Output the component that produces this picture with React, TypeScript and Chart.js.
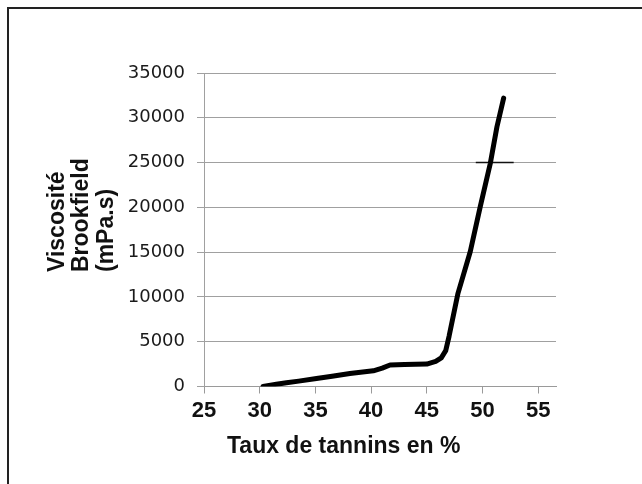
import React, { useEffect, useRef } from "react";
import { Chart, registerables } from "chart.js";

Chart.register(...registerables);

const tannins = [30.3, 31.5, 32.4, 33.5, 35.1, 36.5, 38.1, 40.2, 41.0, 41.7, 43.0, 45.0, 45.8, 46.3, 46.7, 47.0, 47.8, 48.9, 49.8, 50.7, 51.3, 51.9];
const viscosity = [0, 250, 420, 600, 900, 1150, 1450, 1750, 2050, 2400, 2450, 2500, 2800, 3200, 4000, 5600, 10400, 15050, 20080, 24900, 29000, 32200];
const markerX = [49.4, 52.8];
const markerY = [25000, 25000];
const xTicks = [25, 30, 35, 40, 45, 50, 55];
const yTitleLines = ["Viscosité", "Brookfield", "(mPa.s)"];
const xTitle = "Taux de tannins en %";

export default function App() {
  const ref = useRef<HTMLCanvasElement>(null);

  useEffect(() => {
    if (!ref.current) return;
    const titles = {
      id: "titles",
      afterDraw(chart: any) {
        const ctx = chart.ctx as CanvasRenderingContext2D;
        ctx.save();
        ctx.fillStyle = "#111";
        ctx.font = 'bold 23px "Liberation Sans", Arial, sans-serif';
        ctx.textBaseline = "alphabetic";
        ctx.textAlign = "left";
        ctx.fillText(xTitle, 227, 453);
        const baselines = [63.5, 88, 112.5];
        yTitleLines.forEach((line, i) => {
          ctx.save();
          ctx.translate(baselines[i], 272);
          ctx.rotate(-Math.PI / 2);
          ctx.fillText(line, 0, 0);
          ctx.restore();
        });
        ctx.restore();
      },
    };

    const chart = new Chart(ref.current, {
      type: "scatter",
      data: {
        datasets: [
          {
            data: tannins.map((x, i) => ({ x, y: viscosity[i] })),
            showLine: true,
            borderColor: "#000",
            backgroundColor: "#000",
            borderWidth: 5,
            pointRadius: 0,
            borderCapStyle: "round",
            borderJoinStyle: "round",
            tension: 0,
          },
          {
            data: markerX.map((x, i) => ({ x, y: markerY[i] })),
            showLine: true,
            borderColor: "#111",
            borderWidth: 1.5,
            pointRadius: 0,
          },
        ],
      },
      options: {
        responsive: false,
        animation: false,
        devicePixelRatio: 1,
        layout: { padding: { top: 73, right: 86, left: 0, bottom: 0 } },
        plugins: {
          legend: { display: false },
          tooltip: { enabled: false },
          title: { display: false },
        },
        scales: {
          x: {
            type: "linear",
            min: 25,
            max: 56.6,
            afterBuildTicks: (s: any) => {
              s.ticks = xTicks.map((v) => ({ value: v }));
            },
            afterFit: (s: any) => {
              s.height = 97.5;
            },
            grid: {
              drawOnChartArea: false,
              drawTicks: true,
              tickLength: 7,
              color: "#9a9a9a",
              lineWidth: 1,
            },
            border: { color: "#9a9a9a", width: 1 },
            ticks: {
              autoSkip: false,
              maxRotation: 0,
              padding: 4,
              color: "#111",
              callback: (v: any) => String(v),
              font: { family: '"Liberation Sans", Arial, sans-serif', size: 22, weight: "bold" },
            },
          },
          y: {
            min: 0,
            max: 35000,
            afterFit: (s: any) => {
              s.width = 204;
            },
            grid: {
              color: "#a0a0a0",
              lineWidth: 1,
              tickLength: 7,
            },
            border: { color: "#a0a0a0", width: 1 },
            ticks: {
              stepSize: 5000,
              padding: 12,
              color: "#1a1a1a",
              callback: (v: any) => String(v),
              font: { family: '"DejaVu Sans", Verdana, sans-serif', size: 18 },
            },
          },
        },
      },
      plugins: [titles],
    });
    return () => chart.destroy();
  }, []);

  return (
    <div style={{ position: "fixed", left: 0, top: 0, width: 642, height: 484, background: "#fff", overflow: "hidden" }}>
      <canvas ref={ref} width={642} height={484} style={{ position: "absolute", left: 0, top: 0, width: 642, height: 484 }} />
      <div
        style={{
          position: "absolute",
          left: 7,
          top: 7,
          width: 635,
          height: 477,
          borderLeft: "2px solid #222",
          borderTop: "2px solid #222",
          boxSizing: "border-box",
          pointerEvents: "none",
        }}
      />
    </div>
  );
}
